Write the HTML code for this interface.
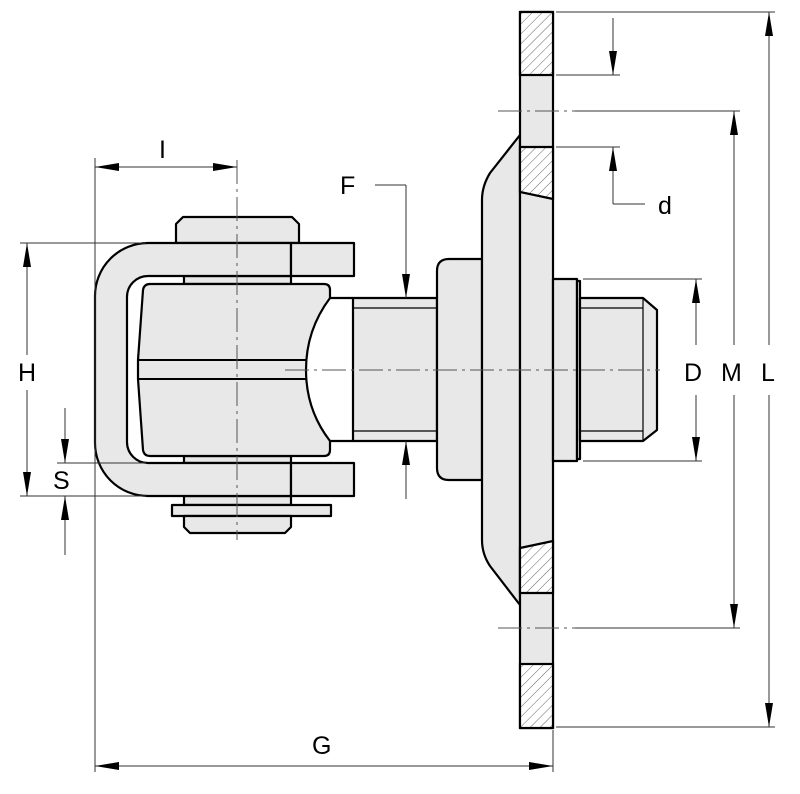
<!DOCTYPE html>
<html><head><meta charset="utf-8"><style>
html,body{margin:0;padding:0;background:#fff;}
svg{display:block;}
text{font-family:"Liberation Sans",sans-serif;font-size:25px;fill:#000;}
</style></head><body>
<svg width="800" height="794" viewBox="0 0 800 794" xmlns="http://www.w3.org/2000/svg">
<defs>
<pattern id="h" patternUnits="userSpaceOnUse" width="7" height="7" patternTransform="rotate(45)">
<rect width="7" height="7" fill="#fff"/>
<line x1="0" y1="0" x2="0" y2="7" stroke="#555" stroke-width="0.9"/>
</pattern>
<marker id="b" viewBox="0 0 24 8" refX="24" refY="4" markerWidth="24" markerHeight="8" markerUnits="userSpaceOnUse" orient="auto-start-reverse">
<path d="M0,0 L24,4 L0,8 z" fill="#000"/>
</marker>
</defs>

<g fill="#e8e8e8" stroke="#000" stroke-width="2.2" stroke-linejoin="round">
<path d="M176,243 L176,224 L183,217 L292,217 L299,224 L299,243 Z"/>
<rect x="184" y="276" width="107" height="8"/>
<rect x="184" y="456" width="107" height="7"/>
<rect x="184" y="496" width="107" height="9"/>
<rect x="172" y="505" width="159" height="11"/>
<path d="M184,516 L291,516 L291,527 L285,533 L190,533 L184,527 Z"/>
<path d="M291,243 L148,243 A53,53 0 0 0 95,296 L95,443 A53,53 0 0 0 148,496 L291,496 L291,463 L148,463 A21,21 0 0 1 127,442 L127,297 A21,21 0 0 1 148,276 L291,276 Z"/>
<rect x="291" y="243" width="63" height="33"/>
<rect x="291" y="463" width="63" height="33"/>
<rect x="353" y="298" width="84" height="143"/>
<path d="M150,284 L324,284 Q330,284 330,290 L330,298 Q306,330 306,370 Q306,410 330,441 L330,450 Q330,456 324,456 L150,456 Q144,456 143,450 L138,379 L138,360 L143,290 Q144,284 150,284 Z"/>
<line x1="330" y1="298" x2="353" y2="298"/>
<line x1="330" y1="441" x2="353" y2="441"/>
<path d="M482,259 L449,259 Q437,259 437,271 L437,468 Q437,480 449,480 L482,480 Z"/>
<path d="M520,135 L490,173 Q482,186 482,200 L482,540 Q482,554 490,566 L520,605 Z"/>
<rect x="520" y="12" width="33" height="716"/>
<rect x="553" y="279" width="24" height="182"/>
<rect x="577" y="281" width="3" height="178"/>
<path d="M580,298 L643,298 L657,310 L657,430 L643,441 L580,441 Z"/>
</g>

<g stroke="#000" stroke-width="2.2">
<rect x="520" y="12" width="33" height="63" fill="url(#h)"/>
<path d="M520,147 L553,147 L553,199 L520,192 Z" fill="url(#h)"/>
<path d="M520,548 L553,541 L553,593 L520,593 Z" fill="url(#h)"/>
<rect x="520" y="664" width="33" height="64" fill="url(#h)"/>
</g>

<g stroke="#000" stroke-width="1.2" fill="none">
<line x1="353" y1="308" x2="437" y2="308"/>
<line x1="353" y1="431" x2="437" y2="431"/>
<line x1="580" y1="308" x2="643" y2="308"/>
<line x1="580" y1="431" x2="643" y2="431"/>
<line x1="643" y1="298" x2="643" y2="441"/>
</g>
<g stroke="#000" stroke-width="2" fill="none">
<line x1="138" y1="360" x2="306" y2="360"/>
<line x1="138" y1="379" x2="306" y2="379"/>
</g>

<g stroke="#555" stroke-width="1" fill="none" stroke-dasharray="24,5,3,5">
<line x1="237" y1="160" x2="237" y2="540"/>
<line x1="285" y1="370" x2="660" y2="370"/>
<line x1="498" y1="111" x2="575" y2="111"/>
<line x1="498" y1="628" x2="575" y2="628"/>
</g>

<g stroke="#333" stroke-width="1" fill="none">
<line x1="95" y1="158" x2="95" y2="772"/>
<line x1="553" y1="730" x2="553" y2="772"/>
<line x1="20" y1="243" x2="146" y2="243"/>
<line x1="20" y1="496" x2="146" y2="496"/>
<line x1="57" y1="463" x2="146" y2="463"/>
<line x1="556" y1="12" x2="775" y2="12"/>
<line x1="556" y1="727" x2="775" y2="727"/>
<line x1="556" y1="75" x2="620" y2="75"/>
<line x1="556" y1="147" x2="620" y2="147"/>
<line x1="575" y1="111" x2="740" y2="111"/>
<line x1="575" y1="628" x2="740" y2="628"/>
<line x1="583" y1="279" x2="702" y2="279"/>
<line x1="583" y1="461" x2="702" y2="461"/>
<line x1="375" y1="185" x2="406" y2="185"/>
<line x1="613" y1="147" x2="613" y2="204"/>
<line x1="613" y1="204" x2="645" y2="204"/>
<line x1="95" y1="167" x2="237" y2="167" marker-start="url(#b)" marker-end="url(#b)"/>
<line x1="95" y1="766" x2="553" y2="766" marker-start="url(#b)" marker-end="url(#b)"/>
<line x1="27" y1="355" x2="27" y2="243" marker-end="url(#b)"/>
<line x1="27" y1="390" x2="27" y2="496" marker-end="url(#b)"/>
<line x1="65" y1="408" x2="65" y2="463" marker-end="url(#b)"/>
<line x1="65" y1="555" x2="65" y2="496" marker-end="url(#b)"/>
<line x1="406" y1="185" x2="406" y2="298" marker-end="url(#b)"/>
<line x1="406" y1="499" x2="406" y2="441" marker-end="url(#b)"/>
<line x1="613" y1="18" x2="613" y2="75" marker-end="url(#b)"/>
<line x1="613" y1="204" x2="613" y2="147" marker-end="url(#b)"/>
<line x1="696" y1="345" x2="696" y2="279" marker-end="url(#b)"/>
<line x1="696" y1="395" x2="696" y2="461" marker-end="url(#b)"/>
<line x1="734" y1="345" x2="734" y2="111" marker-end="url(#b)"/>
<line x1="734" y1="395" x2="734" y2="628" marker-end="url(#b)"/>
<line x1="769" y1="345" x2="769" y2="12" marker-end="url(#b)"/>
<line x1="769" y1="395" x2="769" y2="727" marker-end="url(#b)"/>
</g>

<text x="159" y="158">I</text>
<text x="340" y="194">F</text>
<text x="18" y="381">H</text>
<text x="53" y="489">S</text>
<text x="658" y="214">d</text>
<text x="684" y="381">D</text>
<text x="721" y="381">M</text>
<text x="761" y="381">L</text>
<text x="312" y="754">G</text>
</svg>
</body></html>
